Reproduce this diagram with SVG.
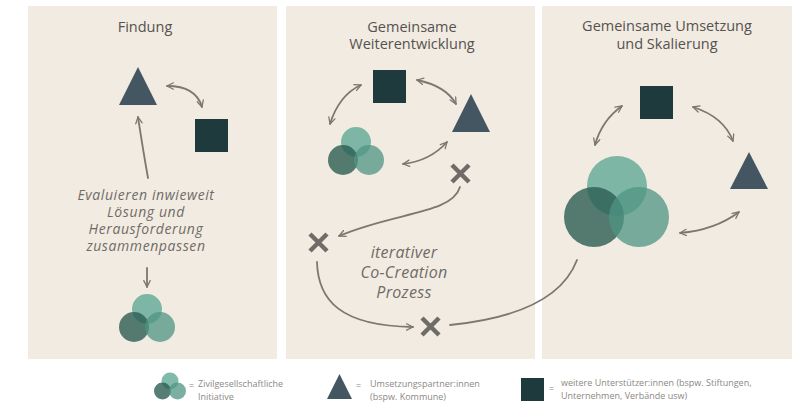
<svg xmlns="http://www.w3.org/2000/svg" width="797" height="408" viewBox="0 0 797 408">
<defs>
<style>
.panel{fill:#f2ebe2}
.title{font-family:"Open Sans","Noto Sans",sans-serif;font-size:14.5px;fill:#55524f;text-anchor:middle}
.ital{font-family:"Open Sans","Noto Sans",sans-serif;font-style:italic;fill:#6f6b67;text-anchor:middle}
.leg{font-family:"Open Sans","Noto Sans",sans-serif;font-size:9px;fill:#8c8884}
.arr{fill:none;stroke:#7d776f;stroke-width:1.8;stroke-linecap:round}
.dbl{marker-start:url(#ah);marker-end:url(#ah)}
.one{marker-end:url(#ah)}
.x{stroke:#6f6b67;stroke-width:4.5;stroke-linecap:butt}
.tri{fill:#435661}
.sq{fill:#1f3a3c}
.c1{fill:#5fa995;fill-opacity:0.8}
.c2{fill:#2c5e52;fill-opacity:0.8}
.c3{fill:#4d9482;fill-opacity:0.75}
</style>
<marker id="ah" viewBox="0 0 10 10" refX="9" refY="5" markerWidth="8" markerHeight="8" markerUnits="userSpaceOnUse" orient="auto-start-reverse">
<path d="M1,1 L9,5 L1,9" fill="none" stroke="#7d776f" stroke-width="1.6" stroke-linecap="round" stroke-linejoin="round"/>
</marker>
<g id="venn">
<circle class="c1" cx="0" cy="-9" r="15"/>
<circle class="c2" cx="-13" cy="9" r="15"/>
<circle class="c3" cx="13" cy="9" r="15"/>
</g>
</defs>
<rect width="797" height="408" fill="#ffffff"/>
<g id="panels">
<rect class="panel" x="28" y="6" width="249" height="353"/>
<rect class="panel" x="286" y="6" width="249" height="353"/>
<rect class="panel" x="542" y="6" width="250" height="353"/>
</g>
<g id="titles">
<text class="title" x="145" y="32">Findung</text>
<text class="title" x="412" y="32">Gemeinsame</text>
<text class="title" x="412" y="49">Weiterentwicklung</text>
<text class="title" x="667" y="31">Gemeinsame Umsetzung</text>
<text class="title" x="667" y="49">und Skalierung</text>
</g>
<g id="p1-triangle"><polygon class="tri" points="138,67 157,105 119,105"/></g>
<g id="p1-square"><rect class="sq" x="195" y="119" width="33" height="33"/></g>
<g id="p1-initiative"><use href="#venn" x="147" y="318"/></g>
<g id="p1-label">
<text class="ital" font-size="14" letter-spacing="0.6" x="146" y="200">Evaluieren inwieweit</text>
<text class="ital" font-size="14" letter-spacing="0.6" x="146" y="217">Lösung und</text>
<text class="ital" font-size="14" letter-spacing="0.6" x="146" y="234">Herausforderung</text>
<text class="ital" font-size="14" letter-spacing="0.6" x="146" y="251">zusammenpassen</text>
</g>
<g id="p2-square"><rect class="sq" x="373" y="70" width="33" height="33"/></g>
<g id="p2-triangle"><polygon class="tri" points="471,94 490,132 452,132"/></g>
<g id="p2-initiative"><use href="#venn" x="356" y="151"/></g>
<g id="p2-x1"><path class="x" d="M452,165 L469,182 M469,165 L452,182"/></g>
<g id="p2-x2"><path class="x" d="M310,234 L327,251 M327,234 L310,251"/></g>
<g id="p2-x3"><path class="x" d="M422,318 L439,335 M439,318 L422,335"/></g>
<g id="p2-label">
<text class="ital" font-size="16" letter-spacing="0.3" x="404" y="258">iterativer</text>
<text class="ital" font-size="16" letter-spacing="0.3" x="404" y="278">Co-Creation</text>
<text class="ital" font-size="16" letter-spacing="0.3" x="404" y="298">Prozess</text>
</g>
<g id="p3-square"><rect class="sq" x="640" y="86" width="33" height="33"/></g>
<g id="p3-triangle"><polygon class="tri" points="749,152 768,189 730,189"/></g>
<g id="p3-initiative">
<circle class="c1" cx="617" cy="186" r="30"/>
<circle class="c2" cx="594" cy="217" r="30"/>
<circle class="c3" cx="639" cy="217" r="30"/>
</g>
<g id="connectors">
<path class="arr dbl" d="M167,86 Q196,86 202,107"/>
<path class="arr one" d="M148,178 Q143,150 138,117"/>
<path class="arr one" d="M147,268 L147,287"/>
<path class="arr dbl" d="M361,85 Q339,95 330,124"/>
<path class="arr dbl" d="M417,80 Q446,86 456,104"/>
<path class="arr dbl" d="M403,164 Q430,161 447,142"/>
<path class="arr one" d="M460,187 C452,214 395,212 339,236"/>
<path class="arr one" d="M317,262 C318,300 340,326 413,327"/>
<path class="arr" d="M450,325 C500,320 560,305 577,260"/>
<path class="arr dbl" d="M622,106 Q602,120 595,145"/>
<path class="arr dbl" d="M693,107 Q724,117 733,141"/>
<path class="arr dbl" d="M680,233 Q715,230 739,212"/>
</g>
<g id="legend-initiative">
<circle class="c1" cx="170" cy="381" r="8.5"/>
<circle class="c2" cx="162.5" cy="391" r="8.5"/>
<circle class="c3" cx="177.5" cy="391" r="8.5"/>
<text class="leg" x="189" y="389">=</text>
<text class="leg" x="198" y="387">Zivilgesellschaftliche</text>
<text class="leg" x="198" y="400">Initiative</text>
</g>
<g id="legend-partner">
<polygon class="tri" points="339.5,374 352,399 327,399"/>
<text class="leg" x="356" y="389">=</text>
<text class="leg" x="370" y="387">Umsetzungspartner:innen</text>
<text class="leg" x="370" y="400">(bspw. Kommune)</text>
</g>
<g id="legend-supporter">
<rect class="sq" x="521" y="378" width="23" height="23"/>
<text class="leg" x="549" y="392">=</text>
<text class="leg" x="561" y="386">weitere Unterstützer:innen (bspw. Stiftungen,</text>
<text class="leg" x="561" y="399">Unternehmen, Verbände usw)</text>
</g>
</svg>
